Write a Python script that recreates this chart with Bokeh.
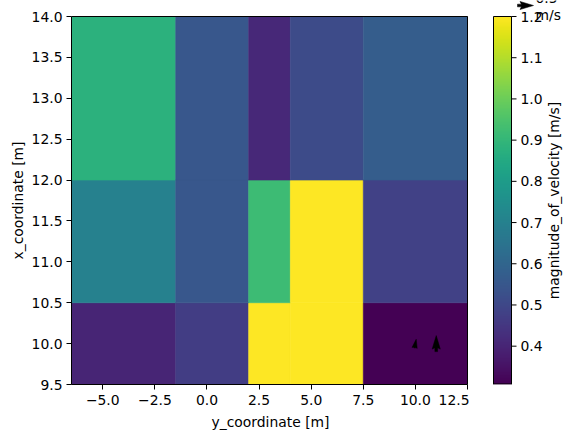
import numpy as np
from bokeh.plotting import figure
from bokeh.models import (Range1d, FixedTicker, CustomJSTickFormatter, ColumnDataSource,
                          LinearColorMapper)
from bokeh.core.properties import value
from bokeh.palettes import Viridis256
from bokeh.transform import linear_cmap
from bokeh.layouts import row
from bokeh.embed import file_html
from bokeh.resources import INLINE

# ---------------- data ----------------
y_coord_edges = [-6.5, -1.5, 2.0, 4.0, 7.5, 12.5]   # horizontal axis
x_coord_edges = [9.5, 10.5, 12.0, 14.0]             # vertical axis
magnitude_row0 = [0.40, 0.47, 1.20, 1.20, 0.307]    # 9.5 - 10.5
magnitude_row1 = [0.70, 0.55, 0.92, 1.20, 0.48]     # 10.5 - 12
magnitude_row2 = [0.88, 0.55, 0.41, 0.51, 0.57]     # 12 - 14
vmin, vmax = 0.307, 1.2

x_ticks = [-5.0, -2.5, 0.0, 2.5, 5.0, 7.5, 10.0, 12.5]
y_ticks = [9.5, 10.0, 10.5, 11.0, 11.5, 12.0, 12.5, 13.0, 13.5, 14.0]
cb_ticks = [0.4, 0.5, 0.6, 0.7, 0.8, 0.9, 1.0, 1.1, 1.2]
x_label = "y_coordinate [m]"
y_label = "x_coordinate [m]"
cb_label = "magnitude_of_velocity [m/s]"

quiver_ypos = [10.0, 11.0]
quiver_xpos = [10.0, 10.0]
quiver_u = [0.05, 0.0]
quiver_v = [0.27, 0.50]
key_speed = 0.5
key_label_top = "0.5"
key_label_bottom = "m/s"

# ---------------- layout constants ----------------
FW, FH = 396, 368          # heat-map box in pixels
TOP, BOTTOM = 16, 54       # space above / below the box
YLAB_W = 27                # panel holding the y-axis label
LEFT = 71 - YLAB_W         # tick-label border of main plot
PAD_R = 2                  # extra frame pixels right of the box
FONT = "DejaVu Sans"
FS = "13.9px"
SCALE_PX = 32.0            # quiver: pixels per m/s

fmt = CustomJSTickFormatter(code="return tick.toFixed(1).replace('-', '\u2212');")

kx = FW / (y_coord_edges[-1] - y_coord_edges[0])
ky = FH / (x_coord_edges[-1] - x_coord_edges[0])
x0r, x1r = y_coord_edges[0], y_coord_edges[-1]
y0r, y1r = x_coord_edges[0], x_coord_edges[-1]

p = figure(frame_width=FW + PAD_R, frame_height=FH + TOP, title=None,
           x_range=Range1d(x0r, x1r + PAD_R / kx),
           y_range=Range1d(y0r, y1r + TOP / ky),
           output_backend="svg", toolbar_location=None,
           min_border_left=LEFT, min_border_top=0, min_border_right=0, min_border_bottom=BOTTOM)

rows = [magnitude_row0, magnitude_row1, magnitude_row2]
L, R, B, T, V = [], [], [], [], []
for i, vals in enumerate(rows):
    for j, val in enumerate(vals):
        L.append(y_coord_edges[j]); R.append(y_coord_edges[j + 1])
        B.append(x_coord_edges[i]); T.append(x_coord_edges[i + 1])
        V.append(val)
src = ColumnDataSource(dict(left=L, right=R, bottom=B, top=T, val=V))
cmap = linear_cmap("val", Viridis256, vmin, vmax)
p.quad(left="left", right="right", bottom="bottom", top="top", source=src,
       fill_color=cmap, line_color=cmap, line_width=0.6)


def arrow_poly(x0, y0, u, v, sx, sy):
    Lp = float(np.hypot(u, v)) * SCALE_PX
    w = 2.7
    hl, hal, hw = 5 * w, 4.5 * w, 3 * w
    if Lp < hl:
        s = Lp / hl
        w, hl, hal, hw = w * s, hl * s, hal * s, hw * s
    px = np.array([0, Lp - hal, Lp - hl, Lp, Lp - hl, Lp - hal, 0]) - Lp / 2
    py = np.array([-w / 2, -w / 2, -hw / 2, 0, hw / 2, w / 2, w / 2])
    a = np.arctan2(v, u)
    rx = px * np.cos(a) - py * np.sin(a)
    ry = px * np.sin(a) + py * np.cos(a)
    return list(x0 + rx / sx), list(y0 + ry / sy)


xs, ys = [], []
for xq, yq, u, v in zip(quiver_ypos, quiver_xpos, quiver_u, quiver_v):
    ax_, ay_ = arrow_poly(xq, yq, u, v, kx, ky)
    xs.append(ax_); ys.append(ay_)
p.patches(xs=xs, ys=ys, fill_color="black", line_color="black", line_width=0.5)

# top and right spines (left/bottom are the axis lines)
p.segment(x0=[x0r, x1r], y0=[y1r, y0r], x1=[x1r, x1r], y1=[y1r, y1r],
          line_color="black", line_width=1)

p.grid.visible = False
p.outline_line_color = None
p.background_fill_color = "white"
p.border_fill_color = "white"

p.xaxis.ticker = FixedTicker(ticks=x_ticks)
p.yaxis.ticker = FixedTicker(ticks=y_ticks)
p.xaxis.formatter = fmt
p.yaxis.formatter = fmt
p.xaxis.bounds = (x0r, x1r)
p.yaxis.bounds = (y0r, y1r)
p.xaxis.axis_label = x_label
for ax in [p.xaxis[0], p.yaxis[0]]:
    ax.major_label_text_font = FONT
    ax.major_label_text_font_size = FS
    ax.major_label_text_color = "black"
    ax.axis_label_text_font = FONT
    ax.axis_label_text_font_size = FS
    ax.axis_label_text_font_style = "normal"
    ax.axis_label_text_color = "black"
    ax.major_tick_out = 5
    ax.major_tick_in = 0
    ax.minor_tick_out = 0
    ax.minor_tick_in = 0
    ax.major_tick_line_color = "black"
    ax.axis_line_color = "black"
    ax.major_label_standoff = 5
p.yaxis[0].major_label_standoff = 4
p.xaxis[0].axis_label_standoff = 6

# ---------------- y-axis label panel ----------------
p0 = figure(frame_width=YLAB_W, frame_height=FH + TOP, title=None,
            x_range=Range1d(0, YLAB_W), y_range=p.y_range,
            output_backend="svg", toolbar_location=None,
            x_axis_location=None, y_axis_location=None,
            min_border_left=0, min_border_right=0, min_border_top=0, min_border_bottom=BOTTOM)
p0.grid.visible = False
p0.outline_line_color = None
p0.border_fill_color = "white"
p0.background_fill_color = "white"
p0.text(x=[17], y=[(y0r + y1r) / 2], text=[y_label], angle=np.pi / 2,
        text_font=value(FONT), text_font_size=value(FS), text_color="black",
        text_align="center", text_baseline="middle")

# ---------------- colorbar panel (x in pixels) ----------------
PANEL_W = 571 - (71 + FW + PAD_R)
CB_X0 = 493 - (71 + FW + PAD_R)   # colorbar left edge inside panel
CBW = 18
ky2 = FH / (vmax - vmin)
p2 = figure(frame_width=PANEL_W, frame_height=FH + TOP, title=None,
            x_range=Range1d(0, PANEL_W),
            y_range=Range1d(vmin, vmax + TOP / ky2),
            output_backend="svg", toolbar_location=None,
            x_axis_location=None, y_axis_location=None,
            min_border_left=0, min_border_right=0, min_border_top=0, min_border_bottom=BOTTOM)
p2.grid.visible = False
p2.outline_line_color = None
p2.background_fill_color = "white"
p2.border_fill_color = "white"

mapper = LinearColorMapper(palette=Viridis256, low=vmin, high=vmax)
grad = np.linspace(vmin, vmax, 256).reshape(-1, 1)
p2.image(image=[grad], x=CB_X0, y=vmin, dw=CBW, dh=vmax - vmin, color_mapper=mapper)
p2.segment(x0=[CB_X0, CB_X0 + CBW, CB_X0, CB_X0], x1=[CB_X0, CB_X0 + CBW, CB_X0 + CBW, CB_X0 + CBW],
           y0=[vmin, vmin, vmax, vmin + 0.5 / ky2], y1=[vmax, vmax, vmax, vmin + 0.5 / ky2],
           line_color="black", line_width=1)

tick_x0 = CB_X0 + CBW
p2.segment(x0=[tick_x0] * len(cb_ticks), x1=[tick_x0 + 5] * len(cb_ticks),
           y0=cb_ticks, y1=cb_ticks, line_color="black", line_width=1)
p2.text(x=[tick_x0 + 9] * len(cb_ticks), y=cb_ticks, text=[f"{t:.1f}" for t in cb_ticks],
        text_font=value(FONT), text_font_size=value(FS), text_color="black",
        text_align="left", text_baseline="middle")
p2.text(x=[CB_X0 + 60], y=[(vmin + vmax) / 2], text=[cb_label], angle=np.pi / 2,
        text_font=value(FONT), text_font_size=value(FS), text_color="black",
        text_align="center", text_baseline="middle")

# quiver key
key_cx = CB_X0 + 32
key_cy = vmax + (TOP - 5) / ky2
kxs, kys = arrow_poly(key_cx, key_cy, key_speed, 0.0, 1.0, ky2)
p2.patch(x=kxs, y=kys, fill_color="black", line_color="black", line_width=0.5)
p2.text(x=[CB_X0 + 42, CB_X0 + 42],
        y=[vmax + (TOP + 3) / ky2, vmax + (TOP - 14.5) / ky2],
        text=[key_label_top, key_label_bottom],
        text_font=value(FONT), text_font_size=value(FS), text_color="black",
        text_align="left", text_baseline="alphabetic")

layout = row(p0, p, p2)
open("out.html", "w").write(file_html(layout, INLINE))
